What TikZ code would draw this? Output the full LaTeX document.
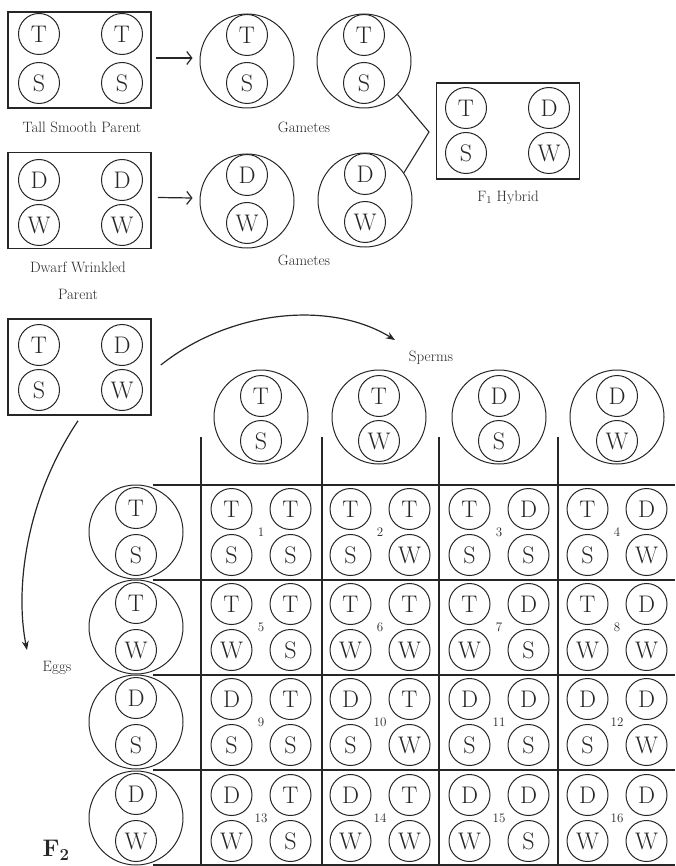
\documentclass[tikz,border=0pt]{standalone}
\usepackage{fontspec}
\usetikzlibrary{arrows.meta,calc}
\definecolor{InkClr}{rgb}{0.15,0.15,0.15}

\begin{document}
\begin{tikzpicture}[x=1pt,y=-1pt,
  allele/.style={circle,draw=InkClr,line width=1pt,minimum size=41pt,inner sep=0pt,text=InkClr,font=\fontsize{24}{24}\selectfont},
  gamete/.style={circle,draw=InkClr,line width=1pt,minimum size=94pt,inner sep=0pt},
  pairbox/.style={draw=InkClr,line width=1.6pt,minimum width=143pt,minimum height=96pt,inner sep=0pt},
  caption/.style={text=InkClr,font=\fontsize{15}{18}\selectfont},
  cellno/.style={text=InkClr,font=\fontsize{13}{13}\selectfont},
  pointer/.style={draw=InkClr,line width=1.2pt,-{Straight Barb[length=5pt,width=13pt]}},
  bend arrow/.style={draw=InkClr,line width=1.2pt,-{Stealth[length=9pt,width=7pt]}},
  gridline/.style={draw=InkClr,line width=1.1pt}]

\useasboundingbox (0,0) rectangle (675,866);

\node[pairbox] (parentTS) at (79.5,60) {};
\node[pairbox] (parentDW) at (79.5,200.5) {};
\node[pairbox] (hybrid) at (508,131) {};
\node[pairbox] (parentF1) at (79.5,367) {};

\foreach \n/\x/\y/\l [count=\i] in {pTS/39/34/T,pTS/122/34/T,pTS/39/83/S,pTS/122/83/S,
    pDW/39/180/D,pDW/122/180/D,pDW/39/225/W,pDW/122/225/W,
    pH/466/108/T,pH/549/108/D,pH/466/153/S,pH/549/153/W,
    pF/39/345/T,pF/122/345/D,pF/39/390/S,pF/122/390/W}
  \node[allele] (\n\i) at (\x,\y) {\l};

\foreach \n/\x/\y/\a/\b in {gTS1/247/61/T/S,gTS2/364/61/T/S,gDW1/247/201/D/W,gDW2/365/200/D/W}{
  \node[gamete] (\n) at (\x,\y) {};
  \node[allele] (\n-t) at (\x,{\y-26}) {\a};
  \node[allele] (\n-b) at (\x,{\y+22}) {\b};
}

\draw[pointer] ([xshift=4pt,yshift=2pt]parentTS.east) -- ([xshift=-7pt,yshift=3pt]gTS1.west);
\draw[pointer] ([xshift=6pt,yshift=3pt]parentDW.east) -- ([xshift=-7pt,yshift=3pt]gDW1.west);

\coordinate (join) at (429,132);
\draw[gridline] (gTS2.-45) -- (join) -- (gDW2.35);

\node[caption] (lblTS) at (82,127) {Tall Smooth Parent};
\node[caption] (lblG1) at (304,127) {Gametes};
\node[caption] (lblDW) at (78,267) {Dwarf Wrinkled};
\node[caption] (lblDWb) at (78,294) {Parent};
\node[caption] (lblG2) at (304,260) {Gametes};
\node[caption] (lblF1) at (508,198) {F\textsubscript{1} Hybrid};
\node[caption] (lblSp) at (431,358) {Sperms};
\node[caption] (lblEg) at (57,668) {Eggs};
\node[text=InkClr,font=\fontsize{24}{24}\selectfont\bfseries] (lblF2) at (56,850) {F\textsubscript{2}};

\coordinate (spermTip) at (395,340);
\draw[bend arrow] ([xshift=9pt,yshift=2pt]parentF1.east) .. controls (230,310) and (330,300) .. (spermTip);
\coordinate (eggTip) at (27,650);
\draw[bend arrow] ([xshift=-1.5pt,yshift=-5pt]parentF1.south) .. controls (25,500) and (15,590) .. (eggTip);

\foreach \cx/\a/\b [count=\j] in {261/T/S,379/T/W,499/D/S,617/D/W}{
  \node[gamete] (sperm\j) at (\cx,417) {};
  \node[allele] (sperm\j-t) at (\cx,396) {\a};
  \node[allele] (sperm\j-b) at (\cx,441) {\b};
}

\foreach \ry/\a/\b [count=\i] in {532/T/S,627/T/W,722/D/S,818/D/W}{
  \node[gamete] (egg\i) at (136,\ry) {};
  \node[allele] (egg\i-t) at (136,{\ry-24}) {\a};
  \node[allele] (egg\i-b) at (136,{\ry+23}) {\b};
}

\foreach \x in {201,322,439,558}
  \draw[gridline] (\x,437) -- (\x,866);
\foreach \y in {485,580,675,770,865}
  \draw[gridline] (153,\y) -- (675,\y);

\foreach \ry/\ea/\eb [count=\i] in {532/T/S,627/T/W,722/D/S,818/D/W}
  \foreach \cx/\sa/\sb [count=\j] in {261/T/S,380/T/W,499/D/S,617/D/W}{
    \pgfmathtruncatemacro\k{4*(\i-1)+\j}
    \node[allele] (c\k-1) at ({\cx-29.5},{\ry-23}) {\ea};
    \node[allele] (c\k-2) at ({\cx+29.5},{\ry-23}) {\sa};
    \node[allele] (c\k-3) at ({\cx-29.5},{\ry+23}) {\eb};
    \node[allele] (c\k-4) at ({\cx+29.5},{\ry+23}) {\sb};
    \node[cellno] (n\k) at (\cx,\ry) {\k};
  }
\end{tikzpicture}
\end{document}
